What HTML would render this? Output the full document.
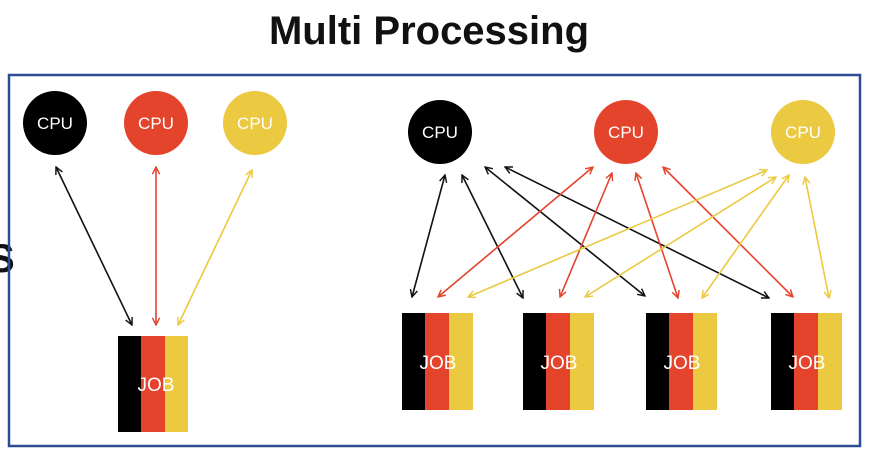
<!DOCTYPE html>
<html><head><meta charset="utf-8"><style>
body{margin:0;width:872px;height:456px;background:#fff;overflow:hidden;font-family:"Liberation Sans",sans-serif}
</style></head><body>
<svg width="872" height="456" viewBox="0 0 872 456" xmlns="http://www.w3.org/2000/svg">
<defs>
<marker id="mk" viewBox="0 0 10 10" refX="9" refY="5" markerWidth="9" markerHeight="9" orient="auto-start-reverse" markerUnits="userSpaceOnUse"><path d="M1,1 L9,5 L1,9" fill="none" stroke="#111" stroke-width="1.6"/></marker>
<marker id="mr" viewBox="0 0 10 10" refX="9" refY="5" markerWidth="9" markerHeight="9" orient="auto-start-reverse" markerUnits="userSpaceOnUse"><path d="M1,1 L9,5 L1,9" fill="none" stroke="#e4432c" stroke-width="1.6"/></marker>
<marker id="my" viewBox="0 0 10 10" refX="9" refY="5" markerWidth="9" markerHeight="9" orient="auto-start-reverse" markerUnits="userSpaceOnUse"><path d="M1,1 L9,5 L1,9" fill="none" stroke="#ebc940" stroke-width="1.6"/></marker>
</defs>
<text x="429" y="44" text-anchor="middle" font-size="40" font-weight="bold" fill="#111">Multi Processing</text>
<text x="-12" y="272" font-size="40" font-weight="bold" fill="#111">S</text>
<rect x="9" y="75" width="851" height="371" fill="none" stroke="#2c4c94" stroke-width="2.5"/>
<g font-size="17" fill="#fff" text-anchor="middle">
<circle cx="55" cy="123" r="32" fill="#000"/><text x="55" y="129">CPU</text>
<circle cx="156" cy="123" r="32" fill="#e4432c"/><text x="156" y="129">CPU</text>
<circle cx="255" cy="123" r="32" fill="#ebc940"/><text x="255" y="129">CPU</text>
<circle cx="440" cy="132" r="32" fill="#000"/><text x="440" y="138">CPU</text>
<circle cx="626" cy="132" r="32" fill="#e4432c"/><text x="626" y="138">CPU</text>
<circle cx="803" cy="132" r="32" fill="#ebc940"/><text x="803" y="138">CPU</text>
</g>
<g stroke-width="1.6" fill="none">
<line x1="56" y1="167" x2="132" y2="325" stroke="#111" marker-start="url(#mk)" marker-end="url(#mk)"/>
<line x1="156" y1="167" x2="156" y2="325" stroke="#e4432c" marker-start="url(#mr)" marker-end="url(#mr)"/>
<line x1="252" y1="170" x2="178" y2="325" stroke="#ebc940" marker-start="url(#my)" marker-end="url(#my)"/>
<line x1="445" y1="175" x2="412" y2="297" stroke="#111" marker-start="url(#mk)" marker-end="url(#mk)"/>
<line x1="462" y1="175" x2="523" y2="298" stroke="#111" marker-start="url(#mk)" marker-end="url(#mk)"/>
<line x1="485" y1="167" x2="645" y2="296" stroke="#111" marker-start="url(#mk)" marker-end="url(#mk)"/>
<line x1="505" y1="167" x2="769" y2="298" stroke="#111" marker-start="url(#mk)" marker-end="url(#mk)"/>
<line x1="593" y1="167" x2="438" y2="297" stroke="#e4432c" marker-start="url(#mr)" marker-end="url(#mr)"/>
<line x1="612" y1="173" x2="560" y2="297" stroke="#e4432c" marker-start="url(#mr)" marker-end="url(#mr)"/>
<line x1="636" y1="173" x2="678" y2="298" stroke="#e4432c" marker-start="url(#mr)" marker-end="url(#mr)"/>
<line x1="663" y1="167" x2="793" y2="297" stroke="#e4432c" marker-start="url(#mr)" marker-end="url(#mr)"/>
<line x1="767" y1="170" x2="468" y2="297" stroke="#ebc940" marker-start="url(#my)" marker-end="url(#my)"/>
<line x1="776" y1="177" x2="585" y2="297" stroke="#ebc940" marker-start="url(#my)" marker-end="url(#my)"/>
<line x1="789" y1="175" x2="702" y2="298" stroke="#ebc940" marker-start="url(#my)" marker-end="url(#my)"/>
<line x1="805" y1="177" x2="829" y2="298" stroke="#ebc940" marker-start="url(#my)" marker-end="url(#my)"/>
</g>
<g font-size="19" fill="#fff" text-anchor="middle">
<g transform="translate(118,336)"><rect width="23" height="96" fill="#000"/><rect x="23" width="24" height="96" fill="#e4432c"/><rect x="47" width="23" height="96" fill="#ebc940"/><text x="38" y="55">JOB</text></g>
<g transform="translate(402,313)"><rect width="23" height="97" fill="#000"/><rect x="23" width="24" height="97" fill="#e4432c"/><rect x="47" width="24" height="97" fill="#ebc940"/><text x="36" y="56">JOB</text></g>
<g transform="translate(523,313)"><rect width="23" height="97" fill="#000"/><rect x="23" width="24" height="97" fill="#e4432c"/><rect x="47" width="24" height="97" fill="#ebc940"/><text x="36" y="56">JOB</text></g>
<g transform="translate(646,313)"><rect width="23" height="97" fill="#000"/><rect x="23" width="24" height="97" fill="#e4432c"/><rect x="47" width="24" height="97" fill="#ebc940"/><text x="36" y="56">JOB</text></g>
<g transform="translate(771,313)"><rect width="23" height="97" fill="#000"/><rect x="23" width="24" height="97" fill="#e4432c"/><rect x="47" width="24" height="97" fill="#ebc940"/><text x="36" y="56">JOB</text></g>
</g>
</svg>
</body></html>
